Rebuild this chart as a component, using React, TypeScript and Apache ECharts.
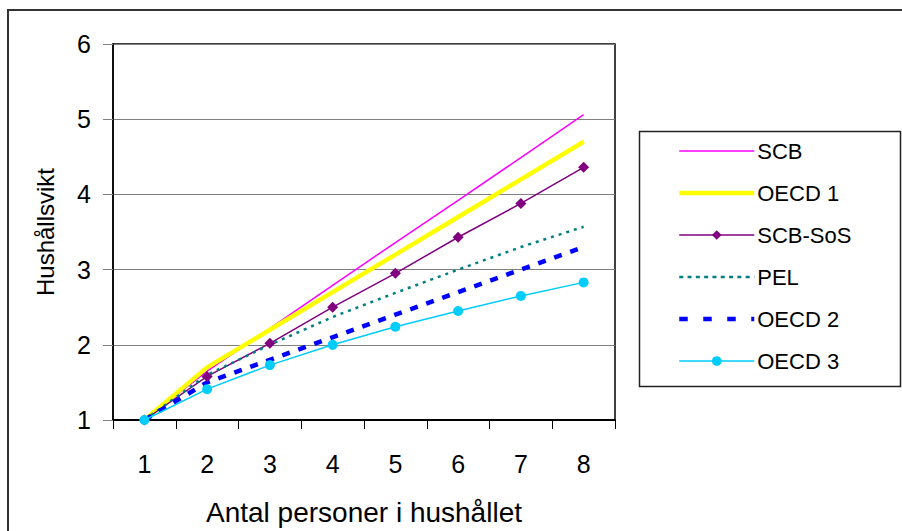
import React, { useEffect, useRef } from "react";
import * as echarts from "echarts";

const categories = ["1", "2", "3", "4", "5", "6", "7", "8"];
const scb = [1, 1.65, 2.22, 2.79, 3.36, 3.92, 4.49, 5.06];
const oecd1 = [1, 1.7, 2.2, 2.7, 3.2, 3.7, 4.2, 4.7];
const scbSos = [1, 1.58, 2.02, 2.5, 2.95, 3.43, 3.88, 4.36];
const pel = [1, 1.6, 2.0, 2.37, 2.69, 3.0, 3.3, 3.57];
const oecd2 = [1, 1.5, 1.8, 2.1, 2.4, 2.7, 3.0, 3.3];
const oecd3 = [1, 1.41, 1.73, 2.0, 2.24, 2.45, 2.65, 2.83];

const FONT = "'Liberation Sans', Arial, sans-serif";

export default function App() {
  const ref = useRef<HTMLDivElement>(null);
  useEffect(() => {
    if (!ref.current) return;
    const chart = echarts.init(ref.current, undefined, { renderer: "svg" });
    const hideSym = { itemStyle: { opacity: 0 } };
    const option: any = {
      animation: false,
      backgroundColor: "#ffffff",
      textStyle: { fontFamily: FONT, color: "#000" },
      graphic: [
        {
          type: "rect",
          shape: { x: 8, y: 10, width: 1000, height: 600 },
          style: { fill: "none", stroke: "#333", lineWidth: 2 },
          silent: true,
          z: -1,
        },
        {
          type: "rect",
          shape: { x: 639.5, y: 131.5, width: 261, height: 255 },
          style: { fill: "#fff", stroke: "#222", lineWidth: 1.5 },
          silent: true,
          z: 0,
        },
      ],
      grid: {
        left: 113,
        right: 287,
        top: 44,
        bottom: 111,
        show: true,
        borderColor: "#000",
        borderWidth: 1.5,
        backgroundColor: "transparent",
      },
      legend: {
        orient: "vertical",
        left: 672,
        top: 135,
        itemWidth: 75,
        itemHeight: 12,
        itemGap: 20,
        z: 5,
        textStyle: { fontFamily: FONT, fontSize: 22, color: "#000", lineHeight: 22, padding: [0, 0, 0, -2] },
        data: [
          { name: "SCB", ...hideSym, lineStyle: { width: 1.5 } },
          { name: "OECD 1", ...hideSym, lineStyle: { width: 4.5 } },
          { name: "SCB-SoS", lineStyle: { width: 1.5 } },
          { name: "PEL", ...hideSym, lineStyle: { width: 2.5, type: [4, 4.3] } },
          { name: "OECD 2", ...hideSym, lineStyle: { width: 4.5, type: [8.5, 15.5] } },
          { name: "OECD 3", lineStyle: { width: 1.5 } },
        ],
      },
      xAxis: {
        type: "category",
        data: categories,
        boundaryGap: true,
        name: "Antal personer i hushållet",
        nameLocation: "middle",
        nameGap: 78,
        nameTextStyle: { fontFamily: FONT, fontSize: 28, color: "#000" },
        axisLine: { lineStyle: { color: "#000", width: 2 } },
        axisTick: { show: true, length: 9, lineStyle: { color: "#000", width: 1 } },
        axisLabel: { fontFamily: FONT, fontSize: 25, color: "#000", margin: 31 },
        splitLine: { show: false },
      },
      yAxis: {
        type: "value",
        min: 1,
        max: 6,
        interval: 1,
        name: "Hushållsvikt",
        nameLocation: "middle",
        nameGap: 56,
        nameTextStyle: { fontFamily: FONT, fontSize: 24, color: "#000" },
        axisLine: { show: true, lineStyle: { color: "#000", width: 1.5 } },
        axisTick: { show: true, length: 10, lineStyle: { color: "#808080", width: 1 } },
        axisLabel: { fontFamily: FONT, fontSize: 25, color: "#000", margin: 22 },
        splitLine: { show: true, lineStyle: { color: "#808080", width: 1 } },
      },
      series: [
        {
          name: "SCB",
          type: "line",
          data: scb,
          symbol: "none",
          color: "#FF00FF",
          lineStyle: { color: "#FF00FF", width: 1.5 },
        },
        {
          name: "OECD 1",
          type: "line",
          data: oecd1,
          symbol: "none",
          color: "#FFFF00",
          lineStyle: { color: "#FFFF00", width: 4.5 },
        },
        {
          name: "SCB-SoS",
          type: "line",
          data: scbSos,
          symbol: "diamond",
          symbolSize: 11,
          color: "#800080",
          itemStyle: { color: "#800080" },
          lineStyle: { color: "#800080", width: 1.5 },
        },
        {
          name: "PEL",
          type: "line",
          data: pel,
          symbol: "none",
          color: "#008080",
          lineStyle: { color: "#008080", width: 2.5, type: [3, 5] },
        },
        {
          name: "OECD 2",
          type: "line",
          data: oecd2,
          symbol: "none",
          color: "#0000FF",
          lineStyle: { color: "#0000FF", width: 4.5, type: [8, 9] },
        },
        {
          name: "OECD 3",
          type: "line",
          data: oecd3,
          symbol: "circle",
          symbolSize: 10,
          color: "#00CCFF",
          itemStyle: { color: "#00CCFF" },
          lineStyle: { color: "#00CCFF", width: 1.5 },
        },
      ],
    };
    chart.setOption(option);
    return () => chart.dispose();
  }, []);
  return (
    <div
      ref={ref}
      style={{ position: "absolute", left: 0, top: 0, width: 902, height: 531 }}
    />
  );
}
